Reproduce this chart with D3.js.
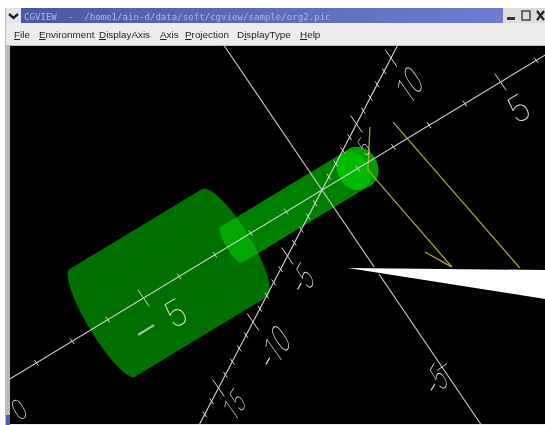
<!DOCTYPE html>
<html><head><meta charset="utf-8">
<script src="https://cdn.jsdelivr.net/npm/d3@7"></script>
<style>html,body{margin:0;padding:0;background:#fff;overflow:hidden}svg{display:block;filter:blur(.35px)}</style>
</head><body><svg id="c" width="545" height="425"></svg>
<script>
const menuItems = ["File","Environment","DisplayAxis","Axis","Projection","DisplayType","Help"];
const menuHotkeyIndex = [0,0,0,0,0,1,0];
const titleText = "CGVIEW  -  /home1/ain-d/data/soft/cgview/sample/org2.pic";
const mainTicks = [-8,-7,-6,-5,-4,-3,-2,-1,1,2,3,4,5,6];
const mainMajor = [-5,5];
const riseTicks = [-17,-16,-15,-14,-13,-12,-11,-10,-9,-8,-7,-6,-5,-4,-3,-2,-1,1,2,3,4,5,6,7,8,9,10];
const riseMajor = [-15,-10,-5,5,10];
const fallTicks = [-5];
const mainLabels = ["-5","5"];
const riseLabels = ["15","-10","-5","5","10"];
const fallLabels = ["-5"];
const endLabel = "0";
const bigCylinder = [-6.15,-2.45];
const smallCylinder = [-2.55,1.05];
// object drawn in the yellow colour: [main value, fall value] of each vertex
const yellowInner = [[1.80,0.68],[1.18,-0.157],[1.545,-3.12],[1.21,-2.49]];
const yellowOuter = [[2.326,0.50],[2.88,-3.96]];
const wedgeStops = [0,1];

const svg = d3.select("#c");
const W=545,H=425;
const layer = (fill,x,y,w,h)=>svg.append("rect").attr("x",x).attr("y",y).attr("width",w).attr("height",h).attr("fill",fill);
layer("#fff",0,0,W,H);
layer("#b9b9b9",5,8,W-5,H-8);
layer("#ececec",6,23,W-6,22);
layer("#000",10,46,W-10,H-47);
layer("#ededed",10,424,W-10,1);

// window chrome
const defs = svg.append("defs");
const g = defs.append("linearGradient").attr("id","tb");
g.append("stop").attr("offset",0).attr("stop-color","#4a59a6");
g.append("stop").attr("offset",1).attr("stop-color","#6d7dcf");
layer("url(#tb)",21,8,482,15);
layer("#e4e4ec",6,8,15,15);
layer("#dcdcdc",503,8,42,15);
svg.append("path").attr("d","M9 14 L13.5 18 L18 14").attr("fill","none").attr("stroke","#223").attr("stroke-width",2.4);
svg.append("rect").attr("x",507).attr("y",17).attr("width",8).attr("height",3).attr("fill","#333");
svg.append("rect").attr("x",522).attr("y",11).attr("width",8).attr("height",9).attr("fill","none").attr("stroke","#445").attr("stroke-width",1.5);
svg.append("path").attr("d","M537 11 L544 20 M544 11 L537 20").attr("stroke","#223").attr("stroke-width",2.2);
svg.append("text").attr("x",24).attr("y",19.5).attr("font-family","DejaVu Sans Mono,monospace").attr("font-size",9.1)
  .attr("fill","#aeb8e6").style("white-space","pre").text(titleText);

const menuX = d3.scaleOrdinal().domain(menuItems).range([14,39,99,160,185,237,300]);
const menu = svg.append("g").selectAll("text").data(menuItems).join("text")
  .attr("x",d=>menuX(d)).attr("y",38).attr("font-family","Liberation Sans,Arial,sans-serif")
  .attr("font-size",9.9).attr("fill","#222");
menu.each(function(d,i){
  const t=d3.select(this), k=menuHotkeyIndex[i];
  if(k>0) t.append("tspan").text(d.slice(0,k));
  t.append("tspan").attr("text-decoration","underline").text(d[k]);
  t.append("tspan").text(d.slice(k+1));
});

// viewport
defs.append("clipPath").attr("id","vp").append("rect").attr("x",10).attr("y",46).attr("width",W-10).attr("height",H-47);
const view = svg.append("g").attr("clip-path","url(#vp)");

// three projected axes (value -> pixel)
const mX = d3.scaleLinear().domain([-10,10]).range([-35,679]);
const mY = d3.scaleLinear().domain([-10,10]).range([406,-26]);
const rX = d3.scaleLinear().domain([-20,20]).range([184,460]);
const rY = d3.scaleLinear().domain([-20,20]).range([454,-74]);
const fX = d3.scaleLinear().domain([-10,10]).range([562,82]);
const fY = d3.scaleLinear().domain([-10,10]).range([544,-164]);

// perpendicular offset (px) from the main axis
const pX=0.515,pY=0.857,deg=Math.atan2(-108,178)*180/Math.PI;
const pt=(u,r)=>[mX(u)+pX*r,mY(u)+pY*r];
function cyl(u0,u1,r,b0,b1){
  const a=pt(u0,-r),c=pt(u0,r),e=pt(u1,r),f=pt(u1,-r);
  return `M${a} A${r} ${b0} ${deg+90} 0 0 ${c} L${e} A${r} ${b1} ${deg+90} 0 0 ${f} Z`;
}
view.append("path").attr("d",cyl(bigCylinder[0],bigCylinder[1],63,14,16)).attr("fill","rgb(0,112,0)");
view.append("path").attr("d",cyl(smallCylinder[0],smallCylinder[1],21,5,18)).attr("fill","rgb(0,200,0)").attr("fill-opacity",.64);
const capC = pt(smallCylinder[1],0);
view.append("ellipse").attr("rx",18).attr("ry",21.5).attr("transform",`translate(${capC}) rotate(${deg})`).attr("fill","rgb(0,158,0)");
view.append("ellipse").attr("rx",15.5).attr("ry",20.5).attr("transform",`translate(${capC[0]-6},${capC[1]+3.5}) rotate(${deg})`).attr("fill","rgb(0,188,0)");

// yellow object
const objLine = d3.line()
  .x(d=>mX(d[0])+fX(d[1])-fX(0))
  .y(d=>mY(d[0])+fY(d[1])-fY(0));
[yellowInner,yellowOuter].forEach(s=>view.append("path").attr("d",objLine(s))
  .attr("fill","none").attr("stroke","#aca52a").attr("stroke-width",1.3));

// axis lines and ticks
function axis(X,Y,ends,ticks,major,tx,ty,col){
  const g=view.append("g").attr("stroke",col);
  const s=d=>major.includes(d)?2.9:1;
  g.append("line").attr("x1",X(ends[0])).attr("y1",Y(ends[0])).attr("x2",X(ends[1])).attr("y2",Y(ends[1])).attr("stroke-width",1.1);
  g.selectAll("line.t").data(ticks).join("line").attr("class","t")
    .attr("x1",d=>X(d)-tx*s(d)).attr("y1",d=>Y(d)-ty*s(d))
    .attr("x2",d=>X(d)+tx*s(d)).attr("y2",d=>Y(d)+ty*s(d))
    .attr("stroke-width",1);
}
axis(fX,fY,[-10,10],fallTicks,[],5,-3.4,"#c8c8c8");
axis(mX,mY,[-8.75,6.4],mainTicks,mainMajor,2,2.9,"#d2d2d2");
axis(rX,rY,[-20,11.3],riseTicks,riseMajor,2,2.9,"#d8d8d8");

// labels: sheared like the 3-D stroke text
function label(t,x,y,m,size,dash,gap){
  const el=view.append("text").attr("transform",`matrix(${m.join(",")},${x},${y})`)
    .attr("text-anchor","middle").attr("font-family","Roboto,Lato,sans-serif").attr("font-weight",100)
    .attr("font-size",size).attr("fill","#e6e6e6");
  if(t[0]==="-"){
    const up=size*.28*(dash-1);
    el.append("tspan").attr("font-size",size*dash).attr("dy",up).attr("fill-opacity",dash>2?.7:1).text("-");
    el.append("tspan").attr("dy",-up).attr("dx",gap||0).text(t.slice(1));
  } else el.text(t);
}
const mainM=[.81,-.49,.5,.86], riseM=[.36,-.6,.58,.82];
label(mainLabels[1],mX(5)+24,mY(5)+38,mainM,37,1);
label(mainLabels[0],mX(-5)+23,mY(-5)+36,mainM,37,2.3,12);
label(endLabel,24,418,[.62,-.34,.45,.8],31,1);
label(riseLabels[4],rX(10)+26,rY(10)+38,riseM,36,1);
label(riseLabels[3],rX(5)+12,rY(5)+30,riseM,24,1);
label(riseLabels[2],rX(-5)+22,rY(-5)+34,riseM,34,1.3);
label(riseLabels[1],rX(-10)+29,rY(-10)+37,riseM,36,1.3);
label(riseLabels[0],rX(-15)+22,rY(-15)+26,riseM,30,1);
label(fallLabels[0],fX(-5)+1,fY(-5)+24,riseM,34,1.3);

// white call-out wedge: dark halo first, then the fill
const wedgeX=d3.scaleLinear().domain([0,1]).range([348,545]);
const wedgeTop=d3.scaleLinear().domain([0,1]).range([268,270]);
const wedgeBottom=d3.scaleLinear().domain([0,1]).range([268,299]);
const wedgePath=d3.area().x(wedgeX).y0(wedgeTop).y1(wedgeBottom)(wedgeStops);
view.append("path").attr("fill","none").attr("stroke","#000").attr("stroke-width",2.5).attr("d",wedgePath);
view.append("path").attr("fill","#fff").attr("d",wedgePath);
layer("#5a5cb0",6,415,4,10);
</script></body></html>
